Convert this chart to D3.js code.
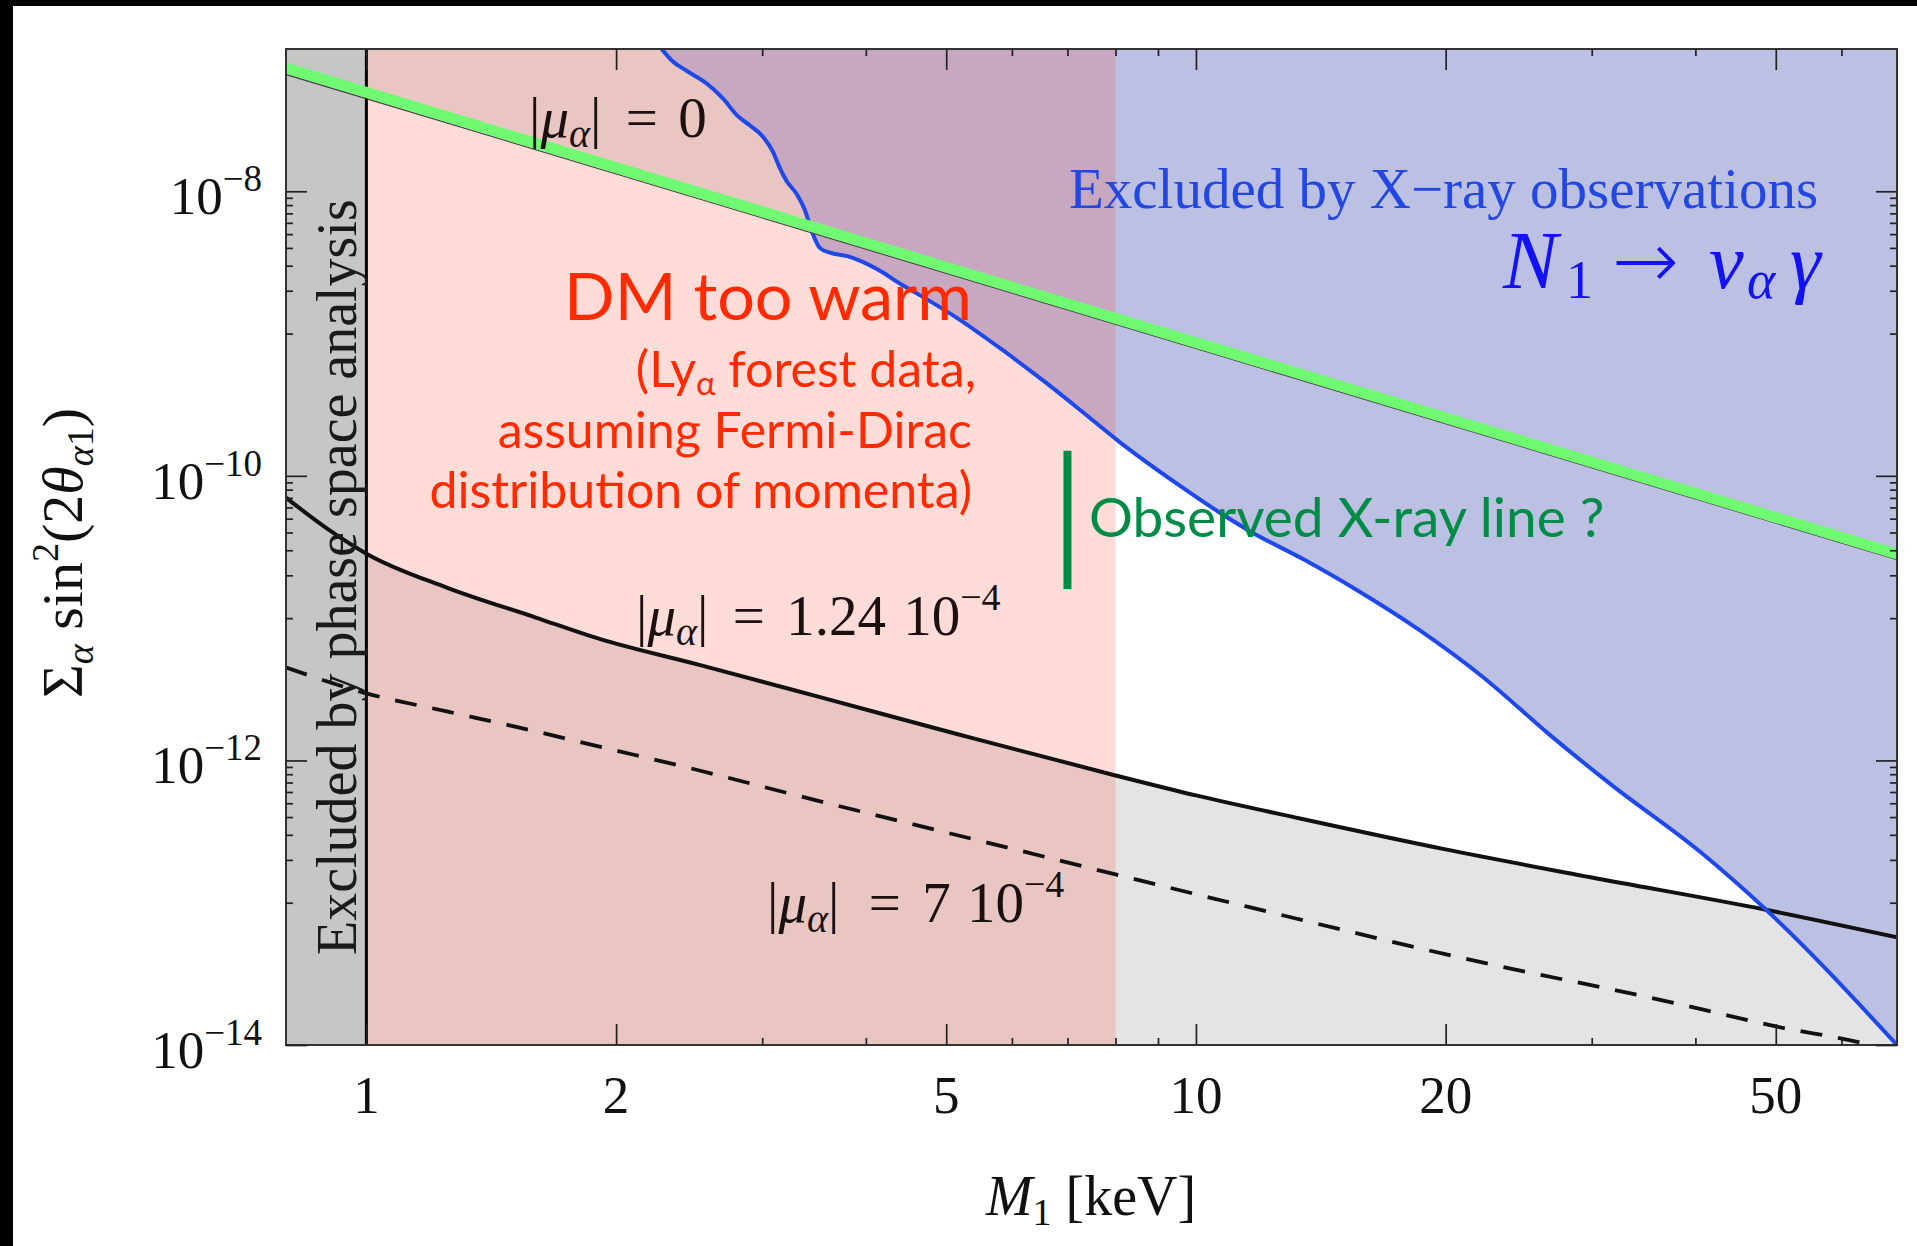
<!DOCTYPE html>
<html><head><meta charset="utf-8">
<script src="https://cdn.jsdelivr.net/npm/d3@7"></script>
<style>
html,body{margin:0;padding:0;background:#fff;}
svg{display:block;}
</style></head><body>
<svg id="chart" width="1917" height="1246"></svg>
<script>
// ---------------- data ----------------
const massDomain = [0.8, 70];          // M1 [keV]
const mixDomain = [1e-14, 1e-7];       // sum sin^2(2 theta)
const xMajorTicks = [1, 2, 5, 10, 20, 50];
const xMinorTicks = [3, 4, 6, 7, 8, 9, 30, 40, 60];
const xTickLabels = ["1", "2", "5", "10", "20", "50"];
const yMajorTicks = [1e-8, 1e-10, 1e-12, 1e-14];
const yTickExponents = ["\u22128", "\u221210", "\u221212", "\u221214"];
const yMinorTicks = [9e-9, 8e-9, 7e-9, 6e-9, 5e-9, 4e-9, 3e-9, 2e-9, 1e-9,
                     9e-11, 8e-11, 7e-11, 6e-11, 5e-11, 4e-11, 3e-11, 2e-11, 1e-11,
                     9e-13, 8e-13, 7e-13, 6e-13, 5e-13, 4e-13, 3e-13, 2e-13, 1e-13];

// X-ray exclusion bound (blue)
const xrayMass = [2.24, 2.34, 2.435, 2.574, 2.69, 2.80, 2.90, 3.01, 3.09, 3.15, 3.21, 3.30, 3.38, 3.44,
                  3.52, 3.62, 3.80, 3.94, 4.16, 4.40, 4.55, 5.15, 5.84, 6.60, 7.47, 8.05, 9.57, 10.69,
                  11.6, 13.46, 15.59, 18.62, 22.25, 26.57, 31.72, 40.6, 48.5, 70];
const xrayMix = [1.1e-7, 8.2e-8, 7.0e-8, 5.7e-8, 4.5e-8, 3.4e-8, 2.9e-8, 2.4e-8, 1.9e-8, 1.46e-8, 1.18e-8, 9.6e-9, 7.3e-9, 5.3e-9,
                 4.0e-9, 3.7e-9, 3.5e-9, 3.24e-9, 2.76e-9, 2.24e-9, 2.0e-9, 1.29e-9, 7.7e-10, 4.5e-10, 2.52e-10, 1.77e-10, 8.5e-11, 5.5e-11,
                 4.1e-11, 2.6e-11, 1.59e-11, 8.2e-12, 3.8e-12, 1.55e-12, 6.7e-13, 2.26e-13, 9.1e-14, 1.0e-14];

// |mu_alpha| = 0 production line (thin dark) and its green highlight
const mu0Mass = [0.8, 70];
const mu0Mix = [6.62e-8, 2.58e-11];
const greenMass = [0.8, 70];
const greenMix = [7.35e-8, 2.82e-11];

// |mu_alpha| = 1.24e-4 (solid)
const muMidMass = [0.8, 0.904, 1.0, 1.25, 1.60, 1.91, 2.52, 3.55, 5.15, 8.0, 10.0, 13.35, 20.0, 29.9, 48.5, 70];
const muMidMix = [7.03e-11, 4.12e-11, 2.84e-11, 1.64e-11, 1.01e-11, 7.14e-12, 4.69e-12, 2.75e-12, 1.535e-12, 7.84e-13,
                  5.68e-13, 3.91e-13, 2.37e-13, 1.51e-13, 8.95e-14, 5.71e-14];

// |mu_alpha| = 7e-4 (dashed)
const muMaxMass = [0.8, 1.0, 1.25, 1.60, 1.91, 2.52, 3.30, 5.98, 8.0, 11.6, 21.0, 37.8, 50.0, 64.9, 70];
const muMaxMix = [4.5e-12, 2.96e-12, 2.21e-12, 1.60e-12, 1.25e-12, 8.5e-13, 5.68e-13, 2.41e-13, 1.58e-13, 9.3e-14,
                  4.07e-14, 1.97e-14, 1.35e-14, 1.0e-14, 8.8e-15];

// region boundaries and the observed line
const phaseSpaceBound = 1;   // keV
const lymanBound = 8;        // keV
const obsMass = 7;
const obsMixRange = [1.6e-11, 1.5e-10];

// ---------------- drawing ----------------
const svg = d3.select("#chart");
const plot = {left: 286, right: 1897, top: 49, bottom: 1045};
const x = d3.scaleLog().domain(massDomain).range([plot.left, plot.right]);
const y = d3.scaleLog().domain(mixDomain).range([plot.bottom, plot.top]);
const yBottom = y(mixDomain[0]), yTop = y(mixDomain[1]);

svg.append("rect").attr("width", 1917).attr("height", 1246).attr("fill", "#fff");
svg.append("rect").attr("x", 0).attr("y", 0).attr("width", 1917).attr("height", 6).attr("fill", "#000");
svg.append("rect").attr("x", 0).attr("y", 0).attr("width", 13).attr("height", 1246).attr("fill", "#000");

svg.append("defs").append("clipPath").attr("id", "plotClip")
  .append("rect").attr("x", plot.left).attr("y", plot.top)
  .attr("width", plot.right - plot.left).attr("height", plot.bottom - plot.top);

const g = svg.append("g").attr("clip-path", "url(#plotClip)");
const zip = (a, b) => a.map((v, i) => [v, b[i]]);

const mid = zip(muMidMass, muMidMix);
const maxd = zip(muMaxMass, muMaxMix);
const mu0 = zip(mu0Mass, mu0Mix);
const grn = zip(greenMass, greenMix);
const xray = zip(xrayMass, xrayMix);

const lineGen = d3.line().x(d => x(d[0])).y(d => y(d[1])).curve(d3.curveMonotoneX);

// gray: below the mu=1.24e-4 curve
g.append("path").datum(mid).attr("fill", "#e4e4e4")
  .attr("d", d3.area().x(d => x(d[0])).y0(yBottom).y1(d => y(d[1])).curve(d3.curveMonotoneX));
// gray: above the mu=0 line
g.append("path").datum(mu0).attr("fill", "#e4e4e4")
  .attr("d", d3.area().x(d => x(d[0])).y0(yTop).y1(d => y(d[1])));
// blue: X-ray excluded
g.append("path").datum(xray).attr("fill", "#bcc0e2")
  .attr("d", d3.area().x(d => x(d[0])).y0(yTop - 20).y1(d => y(d[1])).curve(d3.curveMonotoneX));
// pink overlay: Ly-alpha excluded
g.append("rect").attr("x", x(phaseSpaceBound)).attr("y", yTop)
  .attr("width", x(lymanBound) - x(phaseSpaceBound)).attr("height", yBottom - yTop)
  .attr("fill", "rgb(255,66,44)").attr("fill-opacity", 0.185);
// phase-space excluded band
g.append("rect").attr("x", x(massDomain[0])).attr("y", yTop)
  .attr("width", x(phaseSpaceBound) - x(massDomain[0])).attr("height", yBottom - yTop)
  .attr("fill", "#c6c6c6");
g.append("line").attr("x1", x(phaseSpaceBound)).attr("x2", x(phaseSpaceBound))
  .attr("y1", yTop).attr("y2", yBottom).attr("stroke", "#000").attr("stroke-width", 3);

// curves
g.append("path").datum(maxd).attr("fill", "none").attr("stroke", "#111").attr("stroke-width", 3.8)
  .attr("stroke-dasharray", "22,16").attr("d", lineGen);
g.append("path").datum(mid).attr("fill", "none").attr("stroke", "#111").attr("stroke-width", 4).attr("d", lineGen);
g.append("path").datum(xray).attr("fill", "none").attr("stroke", "#1f48e8").attr("stroke-width", 4).attr("d", lineGen);
g.append("path").datum(mu0).attr("fill", "none").attr("stroke", "#444").attr("stroke-width", 1.3)
  .attr("d", d3.line().x(d => x(d[0])).y(d => y(d[1])));
g.append("path").datum(grn).attr("fill", "none").attr("stroke", "#70fa72").attr("stroke-width", 10.8)
  .attr("d", d3.line().x(d => x(d[0])).y(d => y(d[1])));

// observed X-ray line bar
g.append("line").attr("x1", x(obsMass)).attr("x2", x(obsMass))
  .attr("y1", y(obsMixRange[0])).attr("y2", y(obsMixRange[1]))
  .attr("stroke", "#008c46").attr("stroke-width", 8);

// frame
svg.append("rect").attr("x", plot.left).attr("y", plot.top)
  .attr("width", plot.right - plot.left).attr("height", plot.bottom - plot.top)
  .attr("fill", "none").attr("stroke", "#333").attr("stroke-width", 2);

// ticks
function ticks(axisFn, scale, vals, size, tr) {
  svg.append("g").attr("transform", tr)
    .call(axisFn(scale).tickValues(vals).tickSize(-size).tickFormat(""))
    .call(s => s.select(".domain").remove())
    .call(s => s.selectAll("line").attr("stroke", "#222").attr("stroke-width", 1.7));
}
ticks(d3.axisBottom, x, xMajorTicks, 21, `translate(0,${plot.bottom})`);
ticks(d3.axisBottom, x, xMinorTicks, 7, `translate(0,${plot.bottom})`);
ticks(d3.axisTop, x, xMajorTicks, 21, `translate(0,${plot.top})`);
ticks(d3.axisTop, x, xMinorTicks, 7, `translate(0,${plot.top})`);
ticks(d3.axisLeft, y, yMajorTicks, 21, `translate(${plot.left},0)`);
ticks(d3.axisLeft, y, yMinorTicks, 7, `translate(${plot.left},0)`);
ticks(d3.axisRight, y, yMajorTicks, 21, `translate(${plot.right},0)`);
ticks(d3.axisRight, y, yMinorTicks, 7, `translate(${plot.right},0)`);

const SERIF = "'Liberation Serif','Times New Roman',serif";
const SANS = "Lato,'Open Sans',sans-serif";

// tick labels
svg.append("g").selectAll("text").data(xMajorTicks).join("text")
  .attr("x", d => x(d)).attr("y", plot.bottom + 68)
  .attr("text-anchor", "middle").attr("font-family", SERIF).attr("font-size", 53).attr("fill", "#111")
  .text((d, i) => xTickLabels[i]);
const yl = svg.append("g").selectAll("text").data(yMajorTicks).join("text")
  .attr("x", plot.left - 24).attr("y", d => y(d) + 23)
  .attr("text-anchor", "end").attr("font-family", SERIF).attr("font-size", 53).attr("fill", "#111");
yl.append("tspan").text("10");
yl.append("tspan").attr("font-size", 37).attr("dy", -23).text((d, i) => yTickExponents[i]);

// rich text helper
function rich(x0, y0, parts, attrs) {
  const t = svg.append("text").attr("x", x0).attr("y", y0);
  Object.entries(attrs).forEach(([k, v]) => t.attr(k, v));
  parts.forEach(p => {
    const s = t.append("tspan").text(p.t);
    if (p.i) s.attr("font-style", "italic");
    if (p.s) s.attr("font-size", p.s);
    if (p.f) s.attr("font-family", p.f);
    if (p.w) s.attr("font-weight", p.w);
    if (p.dy) s.attr("dy", p.dy);
    if (p.x != null) s.attr("x", p.x);
    if (p.dx) s.attr("dx", p.dx);
  });
  return t;
}

// axis titles
rich(1091, 1215, [{t: "M", i: 1}, {t: "1", s: 38, dy: 10}, {t: " [keV]", dy: -10}],
  {"font-family": SERIF, "font-size": 56, "fill": "#111", "text-anchor": "middle"});
rich(0, 0, [{t: "\u03A3"}, {t: "\u03B1", i: 1, s: 38, dy: 11}, {t: " sin", dy: -11}, {t: "2", s: 38, dy: -24},
            {t: "(2", dy: 24}, {t: "\u03B8", i: 1}, {t: "\u03B1", s: 38, dy: 11, i: 1}, {t: "1", s: 38}, {t: ")", dy: -11}],
  {"font-family": SERIF, "font-size": 58, "fill": "#111", "text-anchor": "middle",
   "transform": "translate(82,553) rotate(-90)"});

// region annotations
rich(0, 0, [{t: "Excluded by phase space analysis"}],
  {"font-family": SERIF, "font-size": 56, "fill": "#1a1a1a", "transform": "translate(356,955) rotate(-90)"});

rich(1069, 208, [{t: "Excluded by X\u2212ray observations"}],
  {"font-family": SERIF, "font-size": 57, "fill": "#2247e2"});

rich(1503, 288, [{t: "N", i: 1, s: 82}, {t: "1", s: 54, dy: 10, x: 1566},
                 {t: "\u2192", dy: -10, x: 1612, s: 80, w: 200, f: "'DejaVu Sans',sans-serif"},
                 {t: "\u03BD", i: 1, x: 1709}, {t: "\u03B1", i: 1, s: 54, dy: 10, x: 1747}, {t: "\u03B3", i: 1, dy: -10, x: 1790}],
  {"font-family": SERIF, "font-size": 78, "fill": "#1212f2"});

const LBL = {"font-family": SERIF, "font-size": 57, "fill": "#1a1010"};
rich(529, 137, [{t: "|"}, {t: "\u03BC", i: 1}, {t: "\u03B1", i: 1, s: 40, dy: 10}, {t: "|", dy: -10},
                {t: " =", dx: 10}, {t: " 0", dx: 6}], LBL);
rich(636, 635, [{t: "|"}, {t: "\u03BC", i: 1}, {t: "\u03B1", i: 1, s: 40, dy: 10}, {t: "|", dy: -10},
                {t: " =", dx: 10}, {t: " 1.24", dx: 7}, {t: " 10", dx: 3},
                {t: "\u22124", s: 38, dy: -25}], LBL);
rich(767, 922, [{t: "|"}, {t: "\u03BC", i: 1}, {t: "\u03B1", i: 1, s: 40, dy: 10}, {t: "|", dy: -10},
                {t: " =", dx: 15}, {t: " 7", dx: 7}, {t: " 10", dx: 2},
                {t: "\u22124", s: 38, dy: -25}], LBL);

const RED = {"font-family": SANS, "fill": "#ff2a00", "text-anchor": "end"};
rich(972, 320, [{t: "DM too warm"}], Object.assign({"font-size": 66.5}, RED));
rich(976, 387, [{t: "(Ly"}, {t: "\u03B1", s: 33, dy: 8}, {t: " forest data,", dy: -8}], Object.assign({"font-size": 50}, RED));
rich(972, 448, [{t: "assuming Fermi-Dirac"}], Object.assign({"font-size": 50}, RED));
rich(972, 508, [{t: "distribution of momenta)"}], Object.assign({"font-size": 50}, RED));

rich(1089, 537, [{t: "Observed X-ray line ?"}], {"font-family": SANS, "font-size": 55, "fill": "#008c46"});
</script>
</body></html>
